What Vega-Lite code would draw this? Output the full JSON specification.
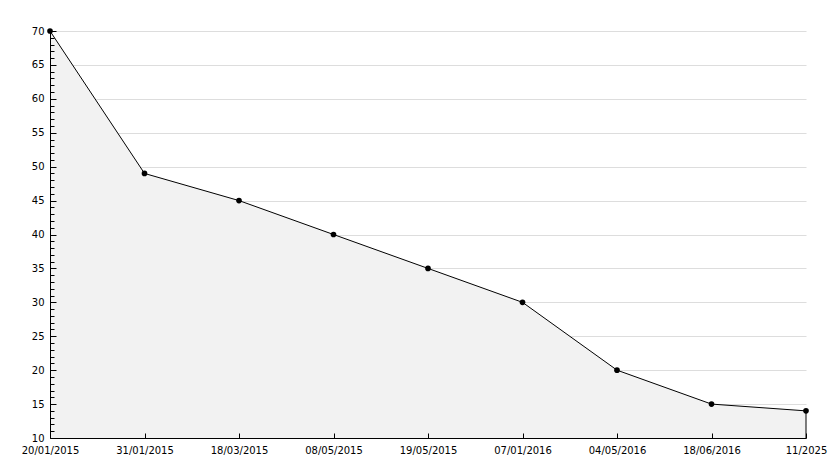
{
  "$schema": "https://vega.github.io/schema/vega-lite/v6.json",
  "autosize": "none",
  "width": 756,
  "height": 407,
  "padding": {"left": 50, "top": 31, "right": 28, "bottom": 30},
  "background": "white",
  "config": {
    "view": {"stroke": null},
    "axis": {"labelFont": "DejaVu Sans", "labelFontSize": 10, "labelColor": "#000", "domainColor": "#000", "tickColor": "#000"}
  },
  "data": {"values": [
    {"date": "20/01/2015", "value": 70},
    {"date": "31/01/2015", "value": 49},
    {"date": "18/03/2015", "value": 45},
    {"date": "08/05/2015", "value": 40},
    {"date": "19/05/2015", "value": 35},
    {"date": "07/01/2016", "value": 30},
    {"date": "04/05/2016", "value": 20},
    {"date": "18/06/2016", "value": 15},
    {"date": "11/2025", "value": 14}
  ]},
  "resolve": {"axis": {"y": "independent"}},
  "layer": [
    {
      "mark": {"type": "area", "color": "#f2f2f2", "line": false},
      "encoding": {
        "x": {"field": "date", "type": "ordinal", "sort": null, "scale": {"type": "point", "padding": 0},
          "axis": {"title": null, "labelAngle": 0, "tickSize": -5, "tickWidth": 1, "labelPadding": 12, "grid": false, "zindex": 1}},
        "y": {"field": "value", "type": "quantitative", "scale": {"domain": [10, 70], "zero": false, "nice": false},
          "axis": {"title": null, "orient": "left", "values": [15,20,25,30,35,40,45,50,55,60,65,70], "labels": false, "ticks": false, "domain": false, "grid": true, "gridColor": "#dddddd", "zindex": 0}},
        "y2": {"datum": 10}
      }
    },
    {
      "mark": {"type": "line", "color": "#000", "strokeWidth": 1},
      "encoding": {
        "x": {"field": "date", "type": "ordinal", "sort": null},
        "y": {"field": "value", "type": "quantitative",
          "axis": {"title": null, "orient": "left", "values": [10,15,20,25,30,35,40,45,50,55,60,65,70], "tickSize": -6, "labelPadding": 12, "grid": false, "zindex": 1}}
      }
    },
    {
      "mark": {"type": "rule", "color": "#000", "strokeWidth": 1},
      "transform": [{"filter": "datum.date == '11/2025'"}],
      "encoding": {
        "x": {"field": "date", "type": "ordinal", "sort": null},
        "y": {"field": "value", "type": "quantitative", "axis": null},
        "y2": {"datum": 10}
      }
    },
    {
      "mark": {"type": "point", "shape": "circle", "filled": true, "color": "#000", "size": 32, "opacity": 1},
      "encoding": {
        "x": {"field": "date", "type": "ordinal", "sort": null},
        "y": {"field": "value", "type": "quantitative",
          "axis": {"title": null, "orient": "left", "values": [11,12,13,14,16,17,18,19,21,22,23,24,26,27,28,29,31,32,33,34,36,37,38,39,41,42,43,44,46,47,48,49,51,52,53,54,56,57,58,59,61,62,63,64,66,67,68,69], "labels": false, "tickSize": -4, "grid": false, "domain": false, "zindex": 1}}
      }
    }
  ]
}
